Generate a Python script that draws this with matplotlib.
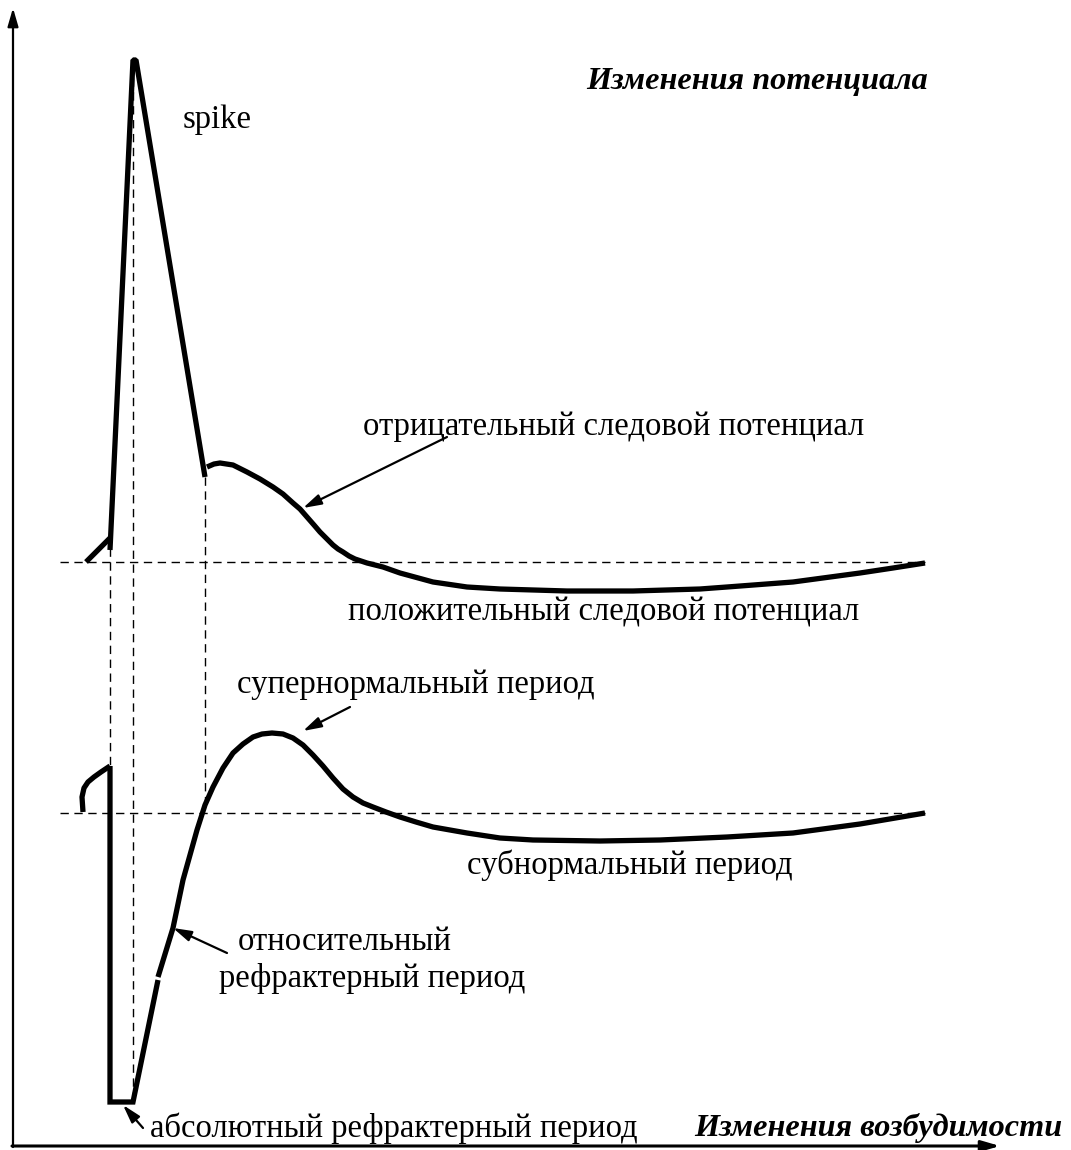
import matplotlib.pyplot as plt

# кривая потенциала (координаты в пикселях исходного рисунка, y вниз)
pre_x = [86, 110]
pre_y = [562, 538]
spike_x = [110, 133, 136, 205]
spike_y = [550, 60, 60, 477]
trace_x = [207, 214, 220, 233, 247, 260, 273, 283, 293, 300, 307, 314, 320, 327, 333, 338, 343,
           349, 355, 361, 367, 383, 400, 433, 467, 500, 567, 633, 700, 727, 793, 860, 893, 925]
trace_y = [467, 464, 463, 465, 472, 479, 487, 494, 503, 509, 517, 525, 532, 539, 545, 549, 552,
           556, 559, 561, 563, 567, 573, 582, 587, 589, 591, 591, 589, 587, 582, 573, 568, 563]

# кривая возбудимости
hook_x = [83, 82, 84, 88, 94, 101, 110]
hook_y = [812, 797, 788, 782, 777, 772, 766]
refr_x = [110, 110, 133, 158]
refr_y = [766, 1102, 1102, 980]
exc_x = [158, 173, 183, 190, 197, 205, 213, 223, 233, 243, 253, 262, 272, 283, 293, 303, 313,
         323, 333, 343, 353, 363, 373, 386, 400, 416, 433, 450, 467, 500, 533, 600, 660, 727,
         793, 860, 925]
exc_y = [977, 928, 880, 855, 830, 805, 787, 768, 753, 744, 737, 734, 733, 734, 738, 745, 755,
         766, 778, 789, 797, 803, 807, 812, 817, 822, 827, 830, 833, 838, 840, 841, 840, 837,
         833, 824, 813]

# пунктирные линии
base_y = [562, 813]
vline_x = [110, 133, 205]
vline_top = [548, 64, 477]
vline_bot = [767, 1100, 805]

labels = [
    ('spike', 183, 120),
    ('отрицательный следовой потенциал', 363, 427),
    ('положительный следовой потенциал', 348, 612),
    ('супернормальный период', 237, 685),
    ('субнормальный период', 467, 865),
    ('относительный', 238, 942),
    ('рефрактерный период', 219, 978),
    ('абсолютный рефрактерный период', 150, 1128),
]
arrows = [
    ((447, 437), (303, 508)),
    ((350, 707), (303, 731)),
    ((227, 953), (173, 928)),
    ((143, 1128), (123, 1105)),
]

fig = plt.figure(figsize=(10.71, 11.5), dpi=100)
ax = fig.add_axes([0, 0, 1, 1])
ax.set_xlim(0, 1071)
ax.set_ylim(1150, 0)
ax.axis('off')

serif = 'Liberation Serif'
head = '-|>,head_length=1.1,head_width=0.32'

# оси
ax.annotate('', xy=(13, 8), xytext=(13, 1147),
            arrowprops=dict(arrowstyle=head, lw=1.6, color='black', shrinkA=0, shrinkB=0))
ax.annotate('', xy=(1000, 1146), xytext=(12, 1146),
            arrowprops=dict(arrowstyle=head, lw=2.2, color='black', shrinkA=0, shrinkB=0))

dash = dict(color='black', lw=1.0, linestyle=(0, (6, 4)))
for y in base_y:
    ax.plot([60, 925], [y, y], **dash)
for x, t, b in zip(vline_x, vline_top, vline_bot):
    ax.plot([x, x], [t, b], **dash)

thick = dict(color='black', lw=3.8, solid_joinstyle='bevel', solid_capstyle='butt')
smooth = dict(color='black', lw=3.8, solid_joinstyle='round', solid_capstyle='butt')
ax.plot(pre_x, pre_y, **thick)
ax.plot(spike_x, spike_y, **thick)
ax.plot(trace_x, trace_y, **smooth)
ax.plot(hook_x, hook_y, **smooth)
ax.plot(refr_x, refr_y, color='black', lw=3.8, solid_joinstyle='miter', solid_capstyle='butt')
ax.plot(exc_x, exc_y, **smooth)

for txt, x, y in labels:
    ax.text(x, y, txt, fontsize=23.5, family=serif, ha='left', va='center')

for (x0, y0), (x1, y1) in arrows:
    ax.annotate('', xy=(x1, y1), xytext=(x0, y0),
                arrowprops=dict(arrowstyle=head, lw=1.6, color='black', shrinkA=0, shrinkB=0))

ax.text(928, 82, 'Изменения потенциала', fontsize=23.2, family=serif,
        fontweight='bold', fontstyle='italic', ha='right', va='center')
ax.text(1062, 1128, 'Изменения возбудимости', fontsize=23.2, family=serif,
        fontweight='bold', fontstyle='italic', ha='right', va='center')

fig.savefig('out.png', dpi=100)
